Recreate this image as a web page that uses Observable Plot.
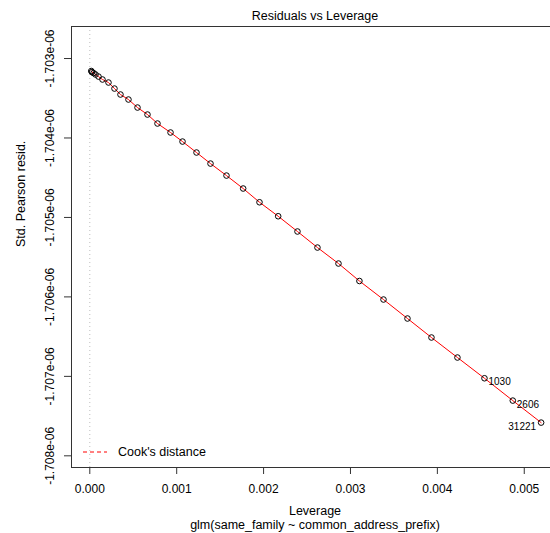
<!DOCTYPE html>
<html>
<head>
<meta charset="utf-8">
<script src="https://cdn.jsdelivr.net/npm/d3@7"></script>
<script src="https://cdn.jsdelivr.net/npm/@observablehq/plot@0.6"></script>
<style>
  html, body { margin: 0; padding: 0; background: #fff; overflow: hidden; }
  svg { font-family: "Liberation Sans", Arial, sans-serif; }
</style>
</head>
<body>
<div id="chart"></div>
<script>
// Leverage values
const leverage = [
  0.000017, 0.000025, 0.000043, 0.000066, 0.000100, 0.000146, 0.000215, 0.000284,
  0.000353, 0.000445, 0.000549, 0.000664, 0.000779, 0.000929, 0.001067, 0.001228,
  0.001389, 0.001573, 0.001765, 0.001953, 0.002168, 0.002390, 0.002620, 0.002862,
  0.003103, 0.003380, 0.003656, 0.003932, 0.004231, 0.004542, 0.004868, 0.005194
];
// Std. Pearson residuals
const residual = [
  -1.703157e-6, -1.703170e-6, -1.703183e-6, -1.703201e-6, -1.703227e-6, -1.703264e-6, -1.703302e-6, -1.703378e-6,
  -1.703453e-6, -1.703516e-6, -1.703617e-6, -1.703705e-6, -1.703818e-6, -1.703931e-6, -1.704045e-6, -1.704183e-6,
  -1.704322e-6, -1.704473e-6, -1.704636e-6, -1.704809e-6, -1.704985e-6, -1.705177e-6, -1.705379e-6, -1.705580e-6,
  -1.705800e-6, -1.706033e-6, -1.706272e-6, -1.706511e-6, -1.706763e-6, -1.707024e-6, -1.707305e-6, -1.707582e-6
];
// Labelled observations (index into arrays above) and their ids
const labelIndex = [29, 30, 31];
const labelText = ["1030", "2606", "31221"];

const xTicks = [0, 0.001, 0.002, 0.003, 0.004, 0.005];
const yTicks = [-1.703e-6, -1.704e-6, -1.705e-6, -1.706e-6, -1.707e-6, -1.708e-6];

const title = "Residuals vs Leverage";
const xLabel = "Leverage";
const subLabel = "glm(same_family ~ common_address_prefix)";
const yLabel = "Std. Pearson resid.";
const legendLabel = "Cook's distance";

const points = leverage.map((x, i) => ({x, y: residual[i]}));
const labels = labelIndex.map((i, k) => ({x: leverage[i], y: residual[i], text: labelText[k], side: k < 2 ? "right" : "left"}));

const fmtY = d => d.toExponential(3).replace(/e([+-])(\d)$/, "e$10$2");
const fmtX = d3.format(".3f");

const xDomain = [-0.0002106, 0.005394];
const yDomain = [-1.708147e-6, -1.702597e-6];

const legend = (index, scales, values, dims) => {
  const g = d3.create("svg:g");
  const y = dims.height - dims.marginBottom - 15;
  const x0 = dims.marginLeft + 12;
  g.append("line")
    .attr("x1", x0).attr("x2", x0 + 24)
    .attr("y1", y).attr("y2", y)
    .attr("stroke", "red").attr("stroke-dasharray", "4,3").attr("stroke-width", 1);
  g.append("text")
    .attr("x", x0 + 35).attr("y", y).attr("dy", "0.35em")
    .attr("text-anchor", "start")
    .attr("font-size", 12.5).attr("fill", "#000")
    .text(legendLabel);
  return g.node();
};

const chart = Plot.plot({
  width: 550,
  height: 533,
  marginLeft: 71,
  marginRight: -8,
  marginTop: 26,
  marginBottom: 66,
  style: {fontFamily: "'Liberation Sans', Arial, sans-serif", fontSize: "12px", color: "#000", background: "#fff"},
  x: {domain: xDomain},
  y: {domain: yDomain},
  marks: [
    Plot.ruleX([0], {stroke: "#bebebe", strokeDasharray: "1,3", strokeWidth: 1}),
    Plot.line(points, {x: "x", y: "y", stroke: "red", strokeWidth: 1}),
    Plot.dot(points, {x: "x", y: "y", r: 2.8, stroke: "#000", strokeWidth: 1, fill: "none"}),
    Plot.text(labels.filter(d => d.side === "right"), {x: "x", y: "y", text: "text", textAnchor: "start", dx: 4, dy: 4, fontSize: 10, fill: "#000"}),
    Plot.text(labels.filter(d => d.side === "left"), {x: "x", y: "y", text: "text", textAnchor: "end", dx: -5, dy: 4, fontSize: 10, fill: "#000"}),
    // frame (left, top, bottom)
    Plot.ruleX([xDomain[0]], {stroke: "#333", strokeWidth: 1}),
    Plot.ruleY([yDomain[0], yDomain[1]], {stroke: "#333", strokeWidth: 1}),
    // axes
    Plot.axisX({ticks: xTicks, tickSize: 7, tickPadding: 10, tickFormat: fmtX, fontSize: 12, label: null, stroke: "#333"}),
    Plot.axisY({ticks: yTicks, tickSize: 7, tickFormat: () => "", label: null, stroke: "#333"}),
    Plot.text(yTicks, {y: d => d, text: fmtY, frameAnchor: "left", dx: -21, rotate: -90, fontSize: 12, fill: "#000", textAnchor: "middle", lineAnchor: "middle"}),
    // titles
    Plot.text([title], {frameAnchor: "top", dy: -11, fontSize: 12.5, fill: "#000", lineAnchor: "middle"}),
    Plot.text([xLabel], {frameAnchor: "bottom", dy: 43, fontSize: 12.5, fill: "#000", lineAnchor: "middle"}),
    Plot.text([subLabel], {frameAnchor: "bottom", dy: 57, fontSize: 12.5, fill: "#000", lineAnchor: "middle"}),
    Plot.text([yLabel], {frameAnchor: "left", dx: -51, rotate: -90, fontSize: 12.5, fill: "#000", lineAnchor: "middle"}),
    legend
  ]
});
document.getElementById("chart").appendChild(chart);
</script>
</body>
</html>
